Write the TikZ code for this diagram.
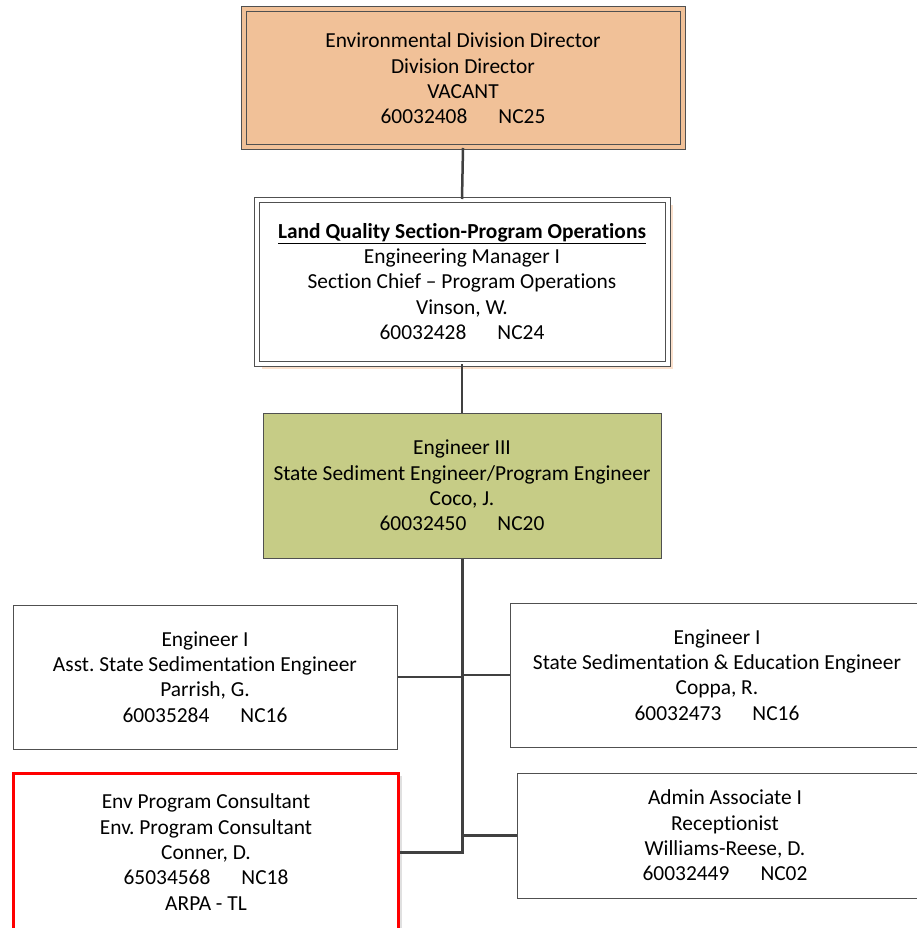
\documentclass[tikz,border=0pt]{standalone}
\usepackage{fontspec}
\setmainfont{Carlito}[Ligatures=NoCommon]
\usetikzlibrary{shadows}
\frenchspacing

\definecolor{dirfill}{RGB}{241,193,152}
\definecolor{engfill}{RGB}{198,204,134}
\definecolor{peach}{RGB}{250,224,204}
\definecolor{edge}{RGB}{80,80,80}
\definecolor{wire}{RGB}{64,64,64}

\tikzstyle{post} = [draw=edge, fill=white, line width=1pt, rectangle,
  inner sep=0pt, align=center, font=\fontsize{21.4}{25.3}\selectfont]
\tikzstyle{chief} = [post, double=dirfill, double distance=4pt, fill=dirfill]
\tikzstyle{section} = [post, double=white, double distance=4pt,
  drop shadow={shadow xshift=5pt, shadow yshift=-5pt, fill=peach, opacity=1}]
\tikzstyle{senior} = [post, fill=engfill]
\tikzstyle{flagged} = [post, draw=red, line width=3pt,
  drop shadow={shadow xshift=3pt, shadow yshift=-3pt, fill=black, opacity=0.12}]
\tikzstyle{conn} = [draw=wire, line width=2.5pt]

\begin{document}
\begin{tikzpicture}[x=1pt, y=-1pt]
        \useasboundingbox (0,0) rectangle (916,928);

        \node [chief, minimum width=439pt, minimum height=138pt]
          (director) at (463,78.5)
          {Environmental Division Director\\Division Director\\VACANT\\60032408\quad\ \ NC25};
        \node [section, minimum width=411pt, minimum height=164pt]
          (lqs) at (462,281.5)
          {\underline{\textbf{Land Quality Section-Program Operations}}\\Engineering Manager I\\Section Chief – Program Operations\\Vinson, W.\\60032428\quad\ \ NC24};
        \node [senior, minimum width=398pt, minimum height=145pt]
          (coco) at (462,485.5)
          {Engineer III\\State Sediment Engineer/Program Engineer\\Coco, J.\\60032450\quad\ \ NC20};
        \node [post, minimum width=384pt, minimum height=144pt]
          (parrish) at (205,677)
          {Engineer I\\Asst. State Sedimentation Engineer\\Parrish, G.\\60035284\quad\ \ NC16};
        \node [post, minimum width=414pt, minimum height=144pt]
          (coppa) at (717,675)
          {Engineer I\\State Sedimentation \& Education Engineer\\Coppa, R.\\60032473\quad\ \ NC16};
        \node [flagged, minimum width=385pt, minimum height=158pt]
          (conner) at (206,852)
          {Env Program Consultant\\Env. Program Consultant\\Conner, D.\\65034568\quad\ \ NC18\\ARPA - TL};
        \node [post, minimum width=416pt, minimum height=125pt]
          (williams) at (725,835.5)
          {Admin Associate I\\Receptionist\\Williams-Reese, D.\\60032449\quad\ \ NC02};

        \draw[conn] (director.south) -- (lqs.north);
        \draw[conn] (lqs.south) -- ++(0,26) -| (coco.north);
        \draw[conn, line width=3pt] (coco.south) |- (conner.east);
        \draw[conn] (parrish.east) -- (parrish.east -| coco.south);
        \draw[conn] (coppa.west) -- (coppa.west -| coco.south);
        \draw[conn] (williams.west) -- (williams.west -| coco.south);
\end{tikzpicture}
\end{document}
